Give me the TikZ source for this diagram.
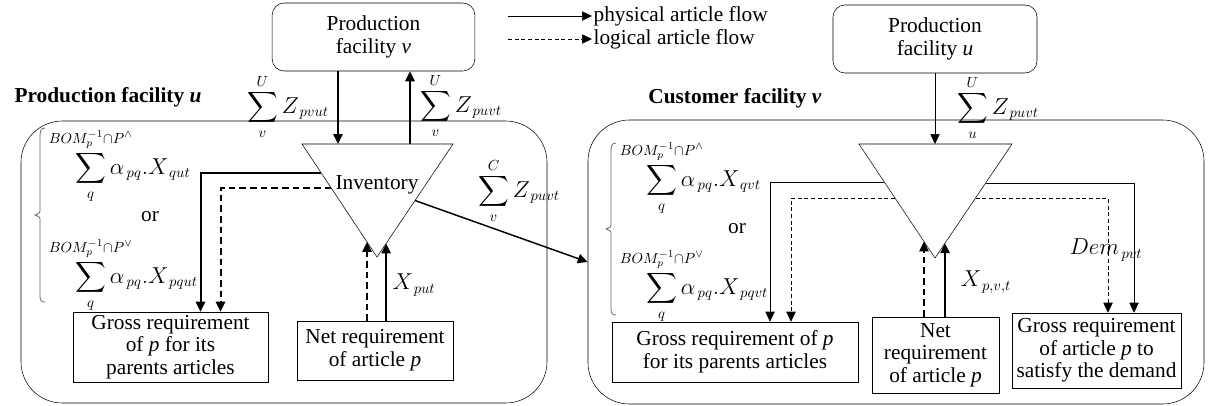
\documentclass[tikz,border=0pt]{standalone}
\usepackage{amsmath}
\usepackage{amssymb}
\usepackage{mathtools}
\usepackage{fontspec}
\setmainfont{Liberation Serif}
\usetikzlibrary{arrows.meta,calc}

\tikzset{
    site/.style={draw, rounded corners=9pt, align=center, minimum width=152pt, minimum height=51pt},
    facility/.style={draw, rounded corners=31pt},
    reqbox/.style={draw, align=center, inner sep=1pt},
    phys/.style={-{Triangle[length=7.5pt,width=7pt]}},
    logic/.style={phys, dash pattern=on 3pt off 2pt},
    heavy/.style={line width=1.5pt},
    heavylogic/.style={phys, heavy, dash pattern=on 5pt off 3pt},
    brace/.style={draw=black!60, line width=0.6pt},
}

\begin{document}
\begin{tikzpicture}[x=0.75pt,y=-0.75pt,font=\fontsize{16}{17}\selectfont]
    \useasboundingbox (0,0) rectangle (1208,405);

    % legend
    \coordinate (legA) at (508,16);
    \coordinate (legB) at (508,39);
    \node[anchor=west, inner sep=1pt] (legPhys) at (592,16) {physical article flow};
    \node[anchor=west, inner sep=1pt] (legLog) at (592,39) {logical article flow};
    \draw[phys] (legA) -- (legPhys.west);
    \draw[logic] (legB) -- (legLog.west);

    % facilities
    \node[site] (prodV) at (373.5,37) {Production\\facility \textit{v}};
    \node[site, minimum width=153pt] (prodU) at (935,39) {Production\\facility \textit{u}};
    \node[facility, minimum width=394.5pt, minimum height=211.5pt] (boxU) at (284,262) {};
    \node[facility, minimum width=462pt, minimum height=213pt] (boxV) at (896,262) {};
    \node[font=\fontsize{16}{17}\selectfont\bfseries] (titleU) at (108,97) {Production facility \textit{u}};
    \node[font=\fontsize{16}{17}\selectfont\bfseries] (titleV) at (735,98) {Customer facility \textit{v}};

    % inventories
    \coordinate (invTL) at (302,144);
    \coordinate (invTR) at (453,144);
    \coordinate (invAp) at (377,257);
    \draw (invTL) -- (invTR) -- (invAp) -- cycle;
    \node[inner sep=0pt] (invL) at (377,185) {Inventory};
    \coordinate (custTL) at (859,144);
    \coordinate (custTR) at (1012,144);
    \coordinate (custAp) at (935,258);
    \draw (custTL) -- (custTR) -- (custAp) -- cycle;

    % requirements
    \node[reqbox, minimum width=146pt, minimum height=52.5pt] (grossL) at (170.5,347) {Gross requirement\\of \textit{p} for its\\parents articles};
    \node[reqbox, minimum width=117pt, minimum height=44pt] (netL) at (375,350.5) {Net requirement\\of article \textit{p}};
    \node[reqbox, minimum width=184.5pt, minimum height=45pt] (grossR) at (735,352) {Gross requirement of \textit{p}\\for its parents articles};
    \node[reqbox, minimum width=95pt, minimum height=57pt] (netR) at (935.5,355) {Net\\requirement\\of article \textit{p}};
    \node[reqbox, minimum width=126.75pt, minimum height=56.25pt] (demR) at (1096.5,350.5) {Gross requirement\\of article \textit{p} to\\satisfy the demand};

    % formulas
    \node (sumA) at (288,107) {$\displaystyle\sum_{v}^{U} Z_{\,pvut}$};
    \node (sumB) at (461,106) {$\displaystyle\sum_{v}^{U} Z_{\,puvt}$};
    \node (sumC) at (519,191) {$\displaystyle\sum_{v}^{C} Z_{\,puvt}$};
    \node (sumD) at (998,108) {$\displaystyle\sum_{u}^{U} Z_{\,puvt}$};
    \node[anchor=west, inner sep=0pt] (fqutL) at (75,166) {$\displaystyle\sum_{q}^{\mathclap{BOM_{p}^{-1}\cap P^{\wedge}}}\alpha_{\,pq}.X_{\,qut}$};
    \node (orL) at (150,217) {or};
    \node[anchor=west, inner sep=0pt] (fpqutL) at (75,275) {$\displaystyle\sum_{q}^{\mathclap{BOM_{p}^{-1}\cap P^{\vee}}}\alpha_{\,pq}.X_{\,pqut}$};
    \node[anchor=west, inner sep=0pt] (fqvtR) at (646,178) {$\displaystyle\sum_{q}^{\mathclap{BOM_{p}^{-1}\cap P^{\wedge}}}\alpha_{\,pq}.X_{\,qvt}$};
    \node (orR) at (737,229) {or};
    \node[anchor=west, inner sep=0pt] (fpqvtR) at (646,286) {$\displaystyle\sum_{q}^{\mathclap{BOM_{p}^{-1}\cap P^{\vee}}}\alpha_{\,pq}.X_{\,pqvt}$};
    \node (xput) at (414,285) {$X_{\,put}$};
    \node (xpvt) at (986,282) {$X_{\,p,v,t}$};
    \node (dem) at (1106,250) {$Dem_{\,pvt}$};

    % braces
    \draw[brace] (45,128) .. controls (41,128) and (40,131) .. (40,136) -- (40,209)
        .. controls (40,213) .. (35,215) .. controls (40,217) .. (40,221) -- (40,296)
        .. controls (40,300) and (41,302) .. (45,302);
    \draw[brace] (616,143) .. controls (612,143) and (611,146) .. (611,151) -- (611,223)
        .. controls (611,227) .. (606,229) .. controls (611,231) .. (611,235) -- (611,309)
        .. controls (611,313) and (612,315) .. (616,315);

    % production facility u
    \coordinate (invIn) at (338,144);
    \coordinate (invOut) at (410,144);
    \coordinate (invG) at ($(invTL)!0.257!(invAp)$);
    \coordinate (invGd) at ($(invTL)!0.389!(invAp)$);
    \coordinate (invN) at ($(invTR)!0.88!(invAp)$);
    \coordinate (invNd) at ($(invTL)!0.867!(invAp)$);
    \coordinate (invC) at ($(invTR)!0.5!(invAp)$);
    \draw[phys, heavy] (prodV.south -| invIn) -- (invIn);
    \draw[phys, heavy] (invOut) -- (invOut |- prodV.south);
    \draw[phys, heavy] (invG) -| ($(grossL.north)+(30,0)$);
    \draw[heavylogic] (invGd) -| ($(grossL.north)+(50,0)$);
    \draw[phys, heavy] (invN |- netL.north) -- (invN);
    \draw[heavylogic] (invNd |- netL.north) -- (invNd);
    \draw[phys, line width=1.1pt] (invC) -- (boxV.west);

    % customer facility v
    \coordinate (custIn) at (935,144);
    \coordinate (custG) at ($(custTL)!0.333!(custAp)$);
    \coordinate (custGd) at ($(custTL)!0.474!(custAp)$);
    \coordinate (custD) at ($(custTR)!0.342!(custAp)$);
    \coordinate (custDd) at ($(custTR)!0.474!(custAp)$);
    \coordinate (custN) at ($(custTR)!0.87!(custAp)$);
    \coordinate (custNd) at ($(custTL)!0.855!(custAp)$);
    \draw[phys] (prodU.south -| custIn) -- (custIn);
    \draw[phys] (custG) -| ($(grossR.north)+(35,0)$);
    \draw[logic] (custGd) -| ($(grossR.north)+(56,0)$);
    \draw[phys] (custD) -| ($(demR.north)+(37.5,0)$);
    \draw[logic] (custDd) -| ($(demR.north)+(11.5,0)$);
    \draw[phys, heavy] (custN |- netR.north) -- (custN);
    \draw[heavylogic] (custNd |- netR.north) -- (custNd);
\end{tikzpicture}
\end{document}
